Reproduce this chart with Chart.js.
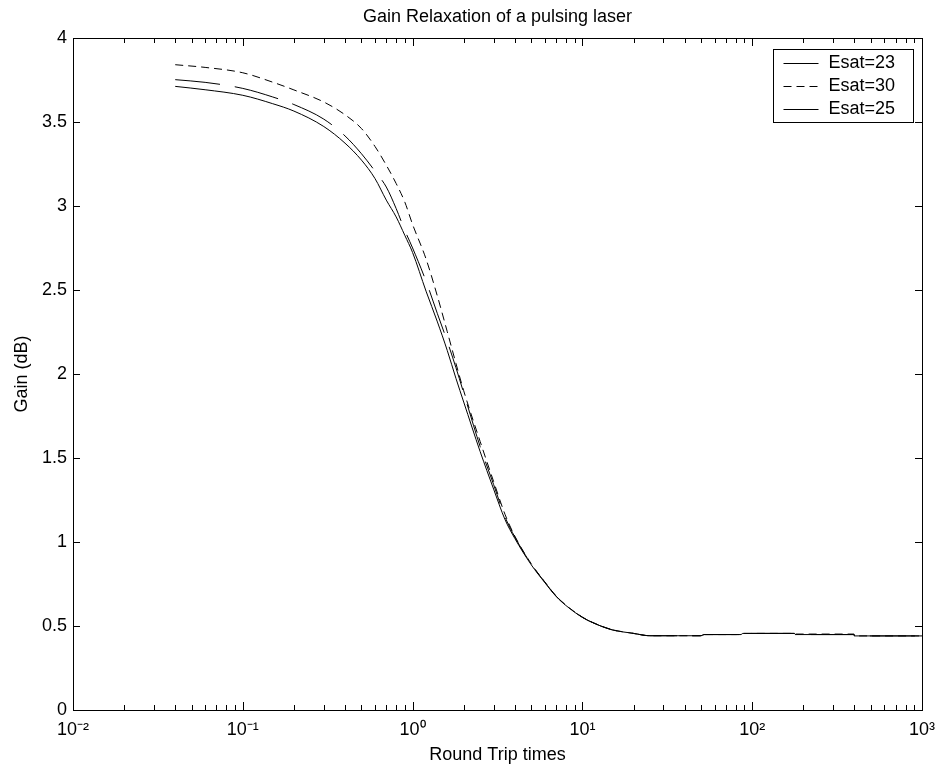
<!DOCTYPE html>
<html>
<head>
<meta charset="utf-8">
<script src="https://cdn.jsdelivr.net/npm/chart.js@4/dist/chart.umd.min.js"></script>
<style>
  html, body { margin: 0; padding: 0; background: #fff; }
  canvas { display: block; }
</style>
</head>
<body>
<canvas id="c" width="938" height="769"></canvas>
<script>
// ---- data ----
const roundTrips = [0.04, 0.06, 0.1, 0.15, 0.2, 0.3, 0.4, 0.5, 0.6, 0.7,
                    0.8, 0.9, 1.0, 1.2, 1.4, 1.6, 1.8, 2.0, 2.5, 3.0,
                    3.5, 4, 5, 6, 7, 8, 10, 12, 15, 20,
                    25, 50, 52, 86, 88, 177, 180, 398, 400, 1000];
const gainEsat23 = [3.712, 3.692, 3.659, 3.609, 3.565, 3.473, 3.374, 3.273, 3.164, 3.035,
                    2.935, 2.825, 2.723, 2.493, 2.310, 2.140, 1.974, 1.833, 1.538, 1.315,
                    1.134, 1.021, 0.864, 0.759, 0.676, 0.622, 0.551, 0.512, 0.477, 0.456,
                    0.442, 0.442, 0.449, 0.449, 0.456, 0.456, 0.449, 0.449, 0.441, 0.441];
const gainEsat30 = [3.841, 3.825, 3.793, 3.737, 3.691, 3.619, 3.543, 3.461, 3.355, 3.243,
                    3.134, 3.023, 2.890, 2.685, 2.463, 2.252, 2.063, 1.900, 1.598, 1.360,
                    1.165, 1.035, 0.870, 0.763, 0.679, 0.624, 0.553, 0.513, 0.478, 0.456,
                    0.442, 0.442, 0.449, 0.449, 0.456, 0.456, 0.452, 0.452, 0.441, 0.441];
const gainEsat25 = [3.752, 3.736, 3.700, 3.649, 3.604, 3.517, 3.417, 3.311, 3.208, 3.113,
                    2.985, 2.855, 2.750, 2.552, 2.359, 2.194, 2.038, 1.887, 1.568, 1.342,
                    1.150, 1.030, 0.868, 0.762, 0.678, 0.623, 0.552, 0.512, 0.477, 0.456,
                    0.442, 0.442, 0.449, 0.449, 0.456, 0.456, 0.449, 0.449, 0.441, 0.441];
const seriesLabels = ['Esat=23', 'Esat=30', 'Esat=25'];
const xTickValues = [0.01, 0.1, 1, 10, 100, 1000];
const xTickLabels = ['10\u207B\u00B2', '10\u207B\u00B9', '10\u2070', '10\u00B9', '10\u00B2', '10\u00B3'];
const yMin = 0, yMax = 4, yStep = 0.5;
const titleText = 'Gain Relaxation of a pulsing laser';
const xTitle = 'Round Trip times';
const yTitle = 'Gain (dB)';

const FONT = "'Liberation Sans', Arial, Helvetica, sans-serif";
const toPts = ys => roundTrips.map((x, i) => ({ x: x, y: ys[i] }));

const frame = {
  id: 'frame',
  afterDraw(chart) {
    const { ctx, chartArea: a, scales: { x, y } } = chart;
    ctx.save();
    ctx.strokeStyle = '#000';
    ctx.lineWidth = 1;
    ctx.beginPath();
    for (let e = -2; e <= 3; e++) {
      for (let m = 1; m <= 9; m++) {
        const v = m * Math.pow(10, e);
        if (v > 1000.0001) break;
        const px = Math.round(x.getPixelForValue(v)) + 0.5;
        const len = m === 1 ? 8 : 5;
        ctx.moveTo(px, a.bottom); ctx.lineTo(px, a.bottom - len);
        ctx.moveTo(px, a.top); ctx.lineTo(px, a.top + len);
      }
    }
    y.ticks.forEach(t => {
      const py = Math.round(y.getPixelForValue(t.value)) + 0.5;
      ctx.moveTo(a.left, py); ctx.lineTo(a.left + 7, py);
      ctx.moveTo(a.right, py); ctx.lineTo(a.right - 7, py);
    });
    ctx.stroke();
    ctx.strokeRect(Math.round(a.left) + 0.5, Math.round(a.top) + 0.5,
                   Math.round(a.right - a.left), Math.round(a.bottom - a.top));
    ctx.restore();
  }
};

const boxLegend = {
  id: 'boxLegend',
  afterDraw(chart) {
    const { ctx, chartArea: a } = chart;
    const w = 140, rowH = 23;
    const n = chart.data.datasets.length;
    const h = rowH * n + 4;
    const bx = Math.round(a.right - 9 - w) + 0.5;
    const by = Math.round(a.top + 11) + 0.5;
    ctx.save();
    ctx.fillStyle = '#fff';
    ctx.fillRect(bx, by, w, h);
    ctx.strokeStyle = '#000';
    ctx.lineWidth = 1;
    ctx.strokeRect(bx, by, w, h);
    ctx.font = '18px ' + FONT;
    ctx.textBaseline = 'middle';
    ctx.fillStyle = '#000';
    chart.data.datasets.forEach((ds, i) => {
      const cy = Math.round(by + 13 + i * rowH) + 0.5;
      ctx.setLineDash(ds.borderDash || []);
      ctx.beginPath();
      ctx.moveTo(bx + 10, cy);
      ctx.lineTo(bx + 45, cy);
      ctx.stroke();
      ctx.setLineDash([]);
      ctx.fillText(ds.label, bx + 55, cy);
    });
    ctx.restore();
  }
};

const lineStyle = { borderColor: '#000', borderWidth: 1, pointRadius: 0, cubicInterpolationMode: 'monotone', fill: false };

new Chart(document.getElementById('c'), {
  type: 'line',
  data: {
    datasets: [
      Object.assign({ label: seriesLabels[0], data: toPts(gainEsat23), borderDash: [] }, lineStyle),
      Object.assign({ label: seriesLabels[1], data: toPts(gainEsat30), borderDash: [8, 5] }, lineStyle),
      Object.assign({ label: seriesLabels[2], data: toPts(gainEsat25), borderDash: [45, 15] }, lineStyle)
    ]
  },
  options: {
    responsive: false,
    animation: false,
    devicePixelRatio: 1,
    layout: { padding: { left: 0, right: 16, top: 0, bottom: 0 } },
    plugins: {
      legend: { display: false },
      tooltip: { enabled: false },
      title: {
        display: true,
        fullSize: false,
        text: titleText,
        color: '#000',
        font: { family: FONT, size: 18, weight: 'normal' },
        padding: { top: 6, bottom: 10.4 }
      }
    },
    scales: {
      x: {
        type: 'logarithmic',
        min: 0.01,
        max: 1000,
        afterBuildTicks: s => { s.ticks = xTickValues.map(v => ({ value: v, major: true })); },
        afterFit: s => { s.height = 59; s.paddingLeft = 0; s.paddingRight = 0; },
        grid: { display: false, drawTicks: false },
        border: { display: false },
        ticks: {
          autoSkip: false,
          maxRotation: 0,
          padding: 9,
          color: '#000',
          font: { family: FONT, size: 18 },
          callback: v => { const i = xTickValues.findIndex(t => Math.abs(t - v) / t < 1e-6); return i >= 0 ? xTickLabels[i] : ''; }
        },
        title: {
          display: true,
          text: xTitle,
          color: '#000',
          font: { family: FONT, size: 18 },
          padding: { top: 0, bottom: 3 }
        }
      },
      y: {
        min: yMin,
        max: yMax,
        afterFit: s => { s.width = 73; },
        grid: { display: false, drawTicks: false },
        border: { display: false },
        ticks: {
          stepSize: yStep,
          padding: 6,
          color: '#000',
          font: { family: FONT, size: 18 },
          callback: v => String(Math.round(v * 100) / 100)
        },
        title: {
          display: true,
          text: yTitle,
          color: '#000',
          font: { family: FONT, size: 18 },
          padding: { top: 11, bottom: 0 }
        }
      }
    }
  },
  plugins: [frame, boxLegend]
});
</script>
</body>
</html>
